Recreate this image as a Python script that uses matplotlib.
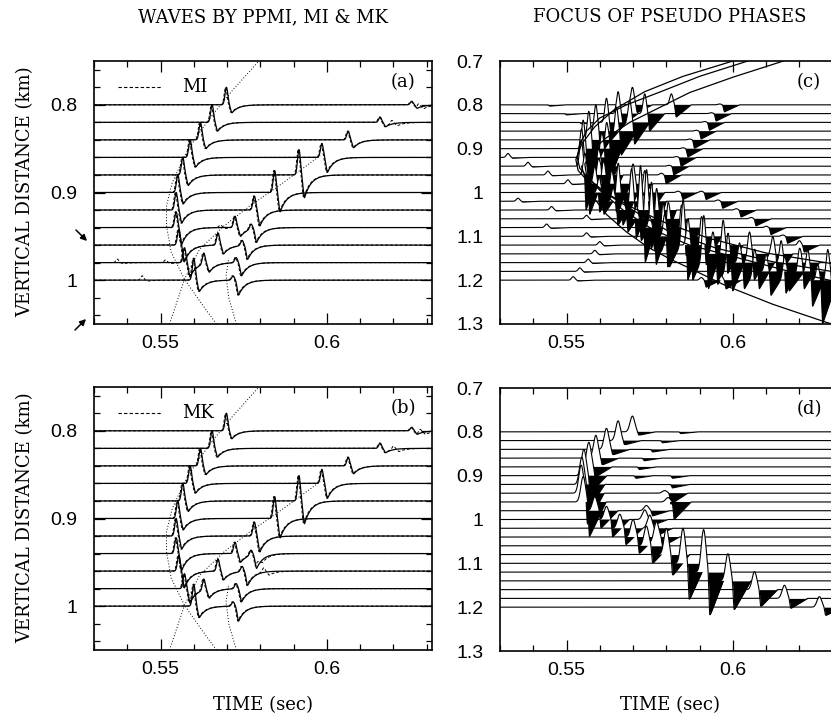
import numpy as np
import matplotlib.pyplot as plt
from matplotlib.patches import FancyArrowPatch

plt.rcParams['font.family'] = 'DejaVu Serif'
TICKFONT = 'Liberation Sans'

# time axis shared by all panels
t = np.linspace(0.53, 0.6316, 5000)

# receiver depths (km)
depths_ab = [0.80, 0.82, 0.84, 0.86, 0.88, 0.90, 0.92, 0.94, 0.96, 0.98, 1.00]
depths_cd = [0.80, 0.82, 0.84, 0.86, 0.88, 0.90, 0.92, 0.94, 0.96, 0.98, 1.00,
             1.02, 1.04, 1.06, 1.08, 1.10, 1.12, 1.14, 1.16, 1.18, 1.20]

# PPMI arrivals: (depth, peak time, peak amplitude, trough amplitude)
ppmi_waves = [
    (0.80, 0.5698, 0.020, 0.009), (0.80, 0.6255, 0.004, 0.004),
    (0.82, 0.5655, 0.020, 0.010), (0.82, 0.6160, 0.006, 0.005),
    (0.84, 0.5620, 0.020, 0.010), (0.84, 0.6064, 0.010, 0.009),
    (0.86, 0.5589, 0.020, 0.011), (0.86, 0.5985, 0.016, 0.017),
    (0.88, 0.5567, 0.020, 0.012), (0.88, 0.5916, 0.029, 0.026),
    (0.90, 0.5552, 0.020, 0.013), (0.90, 0.5843, 0.025, 0.022),
    (0.92, 0.5547, 0.020, 0.015), (0.92, 0.5782, 0.016, 0.018),
    (0.94, 0.5547, 0.018, 0.019), (0.94, 0.5724, 0.013, 0.010), (0.94, 0.5772, 0.006, 0.016),
    (0.96, 0.5555, 0.018, 0.019), (0.96, 0.5673, 0.014, 0.010), (0.96, 0.5745, 0.006, 0.016),
    (0.98, 0.5572, 0.017, 0.016), (0.98, 0.5630, 0.013, 0.010), (0.98, 0.5727, 0.006, 0.015),
    (1.00, 0.5600, 0.025, 0.013), (1.00, 0.5718, 0.005, 0.017),
]

# small extra wiggles seen only on the dashed (MI / MK) traces
mi_extra = [(0.98, 0.5370, 0.004, 0.001), (0.98, 0.5515, 0.003, 0.001),
            (1.00, 0.5445, 0.005, 0.001), (0.80, 0.6275, 0.004, 0.003),
            (0.82, 0.6195, 0.004, 0.003), (0.94, 0.5680, 0.003, 0.001)]
mk_extra = [(0.80, 0.6280, 0.004, 0.003), (0.82, 0.6200, 0.004, 0.003),
            (0.96, 0.5810, 0.005, 0.004), (0.94, 0.5790, 0.004, 0.004)]

# dotted traveltime curves for (a) and (b): (time, depth)
dot_hyper = [(0.5798, 0.749), (0.5713, 0.785), (0.5655, 0.812), (0.5610, 0.835),
             (0.5570, 0.860), (0.5535, 0.889), (0.5518, 0.915), (0.5518, 0.938),
             (0.5532, 0.968), (0.5572, 0.999), (0.5620, 1.025), (0.5668, 1.050)]
dot_refl = [(0.5527, 1.050), (0.5572, 0.999), (0.5617, 0.965), (0.5688, 0.939),
            (0.5768, 0.9155), (0.5868, 0.889), (0.5980, 0.858)]
dot_late = [(0.5728, 1.050), (0.5705, 1.020), (0.5697, 0.995), (0.5705, 0.975)]

# focused arrivals, panel (d)
focus_d = [
    (0.80, 0.5698, 0.036, 0.008), (0.80, 0.5825, 0.000, 0.004),
    (0.82, 0.5655, 0.045, 0.010), (0.82, 0.5770, 0.000, 0.005),
    (0.84, 0.5620, 0.048, 0.013), (0.84, 0.5740, 0.000, 0.006),
    (0.86, 0.5588, 0.052, 0.016), (0.86, 0.5715, 0.000, 0.006),
    (0.88, 0.5567, 0.056, 0.024), (0.88, 0.5700, 0.000, 0.006),
    (0.90, 0.5552, 0.060, 0.040), (0.90, 0.5690, 0.000, 0.006), (0.90, 0.5800, 0.000, 0.006),
    (0.92, 0.5546, 0.062, 0.058), (0.92, 0.5800, 0.000, 0.008),
    (0.94, 0.5544, 0.064, 0.072), (0.94, 0.5795, 0.006, 0.025),
    (0.96, 0.5550, 0.058, 0.080), (0.96, 0.5805, 0.010, 0.040),
    (0.98, 0.5585, 0.032, 0.040), (0.98, 0.5740, 0.012, 0.012),
    (1.00, 0.5620, 0.030, 0.040), (1.00, 0.5735, 0.022, 0.015),
    (1.02, 0.5660, 0.032, 0.038), (1.02, 0.5750, 0.030, 0.018),
    (1.04, 0.5700, 0.040, 0.038), (1.04, 0.5770, 0.035, 0.022),
    (1.06, 0.5740, 0.045, 0.040),
    (1.08, 0.5800, 0.060, 0.048),
    (1.10, 0.5850, 0.080, 0.084),
    (1.12, 0.5912, 0.097, 0.100),
    (1.14, 0.5985, 0.062, 0.067),
    (1.16, 0.6065, 0.041, 0.039),
    (1.18, 0.6155, 0.030, 0.023),
    (1.20, 0.6260, 0.024, 0.019),
]

# pseudo phases, panel (c)
pseudo_c = [
    (0.80, 0.5435, 0.000, 0.003), (0.80, 0.5698, 0.040, 0.018), (0.80, 0.5815, 0.025, 0.028), (0.80, 0.5960, 0.002, 0.016),
    (0.82, 0.5485, 0.000, 0.003), (0.82, 0.5655, 0.050, 0.025), (0.82, 0.5735, 0.045, 0.040), (0.82, 0.5935, 0.002, 0.017),
    (0.84, 0.5530, 0.000, 0.003), (0.84, 0.5620, 0.055, 0.040), (0.84, 0.5690, 0.050, 0.050), (0.84, 0.5915, 0.002, 0.018),
    (0.86, 0.5588, 0.060, 0.055), (0.86, 0.5650, 0.055, 0.055), (0.86, 0.5890, 0.002, 0.018),
    (0.88, 0.5567, 0.065, 0.070), (0.88, 0.5620, 0.050, 0.070), (0.88, 0.5870, 0.002, 0.019),
    (0.90, 0.5550, 0.065, 0.090), (0.90, 0.5605, 0.045, 0.085), (0.90, 0.5850, 0.002, 0.019),
    (0.92, 0.5324, 0.009, 0.002), (0.92, 0.5545, 0.065, 0.100), (0.92, 0.5595, 0.040, 0.090), (0.92, 0.5830, 0.002, 0.020),
    (0.94, 0.5384, 0.009, 0.002), (0.94, 0.5544, 0.060, 0.100), (0.94, 0.5595, 0.035, 0.085), (0.94, 0.5808, 0.002, 0.020),
    (0.96, 0.5444, 0.009, 0.002), (0.96, 0.5555, 0.050, 0.090), (0.96, 0.5610, 0.040, 0.075), (0.96, 0.5785, 0.004, 0.020),
    (0.98, 0.5504, 0.009, 0.002), (0.98, 0.5585, 0.040, 0.065), (0.98, 0.5635, 0.045, 0.065), (0.98, 0.5700, 0.045, 0.040),
    (1.00, 0.5598, 0.035, 0.050), (1.00, 0.5655, 0.070, 0.075), (1.00, 0.5735, 0.050, 0.050), (1.00, 0.5835, 0.003, 0.016), (1.00, 0.5905, 0.003, 0.016),
    (1.02, 0.5354, 0.007, 0.002), (1.02, 0.5640, 0.030, 0.055), (1.02, 0.5695, 0.080, 0.085), (1.02, 0.5740, 0.100, 0.110), (1.02, 0.5955, 0.003, 0.016),
    (1.04, 0.5455, 0.008, 0.002), (1.04, 0.5670, 0.025, 0.050), (1.04, 0.5722, 0.110, 0.120), (1.04, 0.5770, 0.080, 0.095), (1.04, 0.6010, 0.003, 0.016),
    (1.06, 0.5560, 0.008, 0.002), (1.06, 0.5710, 0.030, 0.050), (1.06, 0.5755, 0.100, 0.105), (1.06, 0.5805, 0.060, 0.075), (1.06, 0.6055, 0.003, 0.016),
    (1.08, 0.5440, 0.008, 0.002), (1.08, 0.5750, 0.025, 0.050), (1.08, 0.5790, 0.080, 0.085), (1.08, 0.5845, 0.060, 0.065), (1.08, 0.6100, 0.003, 0.016),
    (1.10, 0.5560, 0.008, 0.002), (1.10, 0.5795, 0.050, 0.070), (1.10, 0.5850, 0.090, 0.100), (1.10, 0.5905, 0.055, 0.065), (1.10, 0.6150, 0.003, 0.016),
    (1.12, 0.5600, 0.008, 0.002), (1.12, 0.5865, 0.060, 0.080), (1.12, 0.5912, 0.090, 0.100), (1.12, 0.5970, 0.060, 0.065), (1.12, 0.6200, 0.010, 0.016),
    (1.14, 0.5585, 0.008, 0.002), (1.14, 0.5940, 0.050, 0.070), (1.14, 0.5985, 0.070, 0.085), (1.14, 0.6050, 0.050, 0.060), (1.14, 0.6120, 0.040, 0.055),
    (1.16, 0.5565, 0.008, 0.002), (1.16, 0.6020, 0.045, 0.060), (1.16, 0.6065, 0.050, 0.060), (1.16, 0.6145, 0.050, 0.070), (1.16, 0.6200, 0.040, 0.060),
    (1.18, 0.5540, 0.008, 0.002), (1.18, 0.6100, 0.040, 0.055), (1.18, 0.6155, 0.040, 0.045), (1.18, 0.6225, 0.050, 0.080), (1.18, 0.6285, 0.050, 0.070),
    (1.20, 0.5520, 0.008, 0.002), (1.20, 0.5905, 0.006, 0.016), (1.20, 0.5965, 0.010, 0.020), (1.20, 0.6255, 0.035, 0.100),
]

# focus curves in (c): (time, depth)
curve_1 = [(0.6000, 0.700), (0.5850, 0.735), (0.5735, 0.770), (0.5645, 0.810), (0.5585, 0.850),
           (0.5545, 0.890), (0.5528, 0.925), (0.5535, 0.950), (0.5565, 0.975), (0.5615, 1.000),
           (0.5700, 1.035), (0.5800, 1.070), (0.5930, 1.105), (0.6100, 1.138), (0.6320, 1.165)]
curve_2 = [(0.6045, 0.700), (0.5900, 0.735), (0.5780, 0.771), (0.5680, 0.800), (0.5600, 0.830),
           (0.5560, 0.860), (0.5540, 0.890), (0.5532, 0.920), (0.5540, 0.945), (0.5575, 0.975),
           (0.5635, 1.010), (0.5720, 1.050), (0.5810, 1.090), (0.5950, 1.127), (0.6120, 1.158),
           (0.6320, 1.183)]
curve_3 = [(0.6152, 0.700), (0.6000, 0.737), (0.5870, 0.772), (0.5780, 0.806), (0.5690, 0.840),
           (0.5620, 0.875), (0.5575, 0.905), (0.5555, 0.935), (0.5560, 0.960), (0.5600, 0.995),
           (0.5670, 1.040), (0.5760, 1.085), (0.5870, 1.120), (0.6020, 1.150), (0.6170, 1.180),
           (0.6320, 1.205)]
curve_4 = [(0.5545, 0.940), (0.5555, 0.965), (0.5580, 1.010), (0.5620, 1.050), (0.5680, 1.090),
           (0.5745, 1.125), (0.5812, 1.152), (0.5890, 1.180), (0.5980, 1.213), (0.6120, 1.255),
           (0.6280, 1.296), (0.6320, 1.305)]


def pulse(t0, up, down, s_up, d, s_dn, tail, ramp):
    tau = t - t0
    pos = up * np.exp(-(tau / s_up) ** 2)
    if ramp:
        back = np.clip(1 - (tau - d) / tail, 0, 1)
    else:
        back = np.exp(-np.clip(tau - d, 0, None) / tail)
    neg = np.where(tau < d, np.exp(-((tau - d) / s_dn) ** 2), back)
    return pos - down * neg


def trace(depth, waves, shape, shift=0.0):
    w = np.zeros_like(t)
    for z, t0, up, down in waves:
        if abs(z - depth) < 1e-6:
            w += pulse(t0 + shift, up, down, *shape)
    return w


SHAPE_AB = (0.0006, 0.0017, 0.0006, 0.002, False)
SHAPE_C = (0.0007, 0.0015, 0.0004, 0.0045, True)
SHAPE_D = (0.0010, 0.0019, 0.0004, 0.0050, True)

W, H = 831, 720
fig = plt.figure(figsize=(W / 100, H / 100), dpi=100)


def box(left, top, width=338, height=263):
    return [left / W, 1 - (top + height) / H, width / W, height / H]


ax_a = fig.add_axes(box(94, 61))
ax_b = fig.add_axes(box(94, 387))
ax_c = fig.add_axes(box(500, 61))
ax_d = fig.add_axes(box(500, 388))


def style(ax, ylim, yticks, ylabels, yminor, ytick_len):
    ax.set_xlim(0.53, 0.6316)
    ax.set_ylim(*ylim)
    ax.set_xticks([0.55, 0.6])
    ax.set_xticklabels(['0.55', '0.6'])
    ax.set_xticks([0.53, 0.54, 0.56, 0.57, 0.58, 0.59, 0.61, 0.62, 0.63], minor=True)
    ax.set_yticks(yticks)
    ax.set_yticklabels(ylabels)
    ax.set_yticks(yminor, minor=True)
    ax.tick_params(which='both', direction='in', top=True, right=True, width=0.9)
    ax.tick_params(axis='x', which='major', length=8, pad=8)
    ax.tick_params(axis='x', which='minor', length=4)
    ax.tick_params(axis='y', which='major', length=ytick_len, pad=12)
    ax.tick_params(axis='y', which='minor', length=4 if ytick_len else 0)
    for lab in ax.get_xticklabels() + ax.get_yticklabels():
        lab.set_fontfamily(TICKFONT)
        lab.set_fontsize(14)
    for sp in ax.spines.values():
        sp.set_linewidth(1.2)
        sp.set_zorder(400)


def wiggles(ax, label, extra, legend_name):
    for z in depths_ab:
        w = trace(z, ppmi_waves, SHAPE_AB)
        w_dash = trace(z, ppmi_waves, SHAPE_AB, shift=-0.00025) + trace(z, extra, SHAPE_AB)
        ax.plot(t, z - w_dash, color='black', lw=0.7, ls=(0, (3, 2)))
        ax.plot(t, z - w, color='black', lw=0.9)
    for pts in (dot_hyper, dot_refl, dot_late):
        tt, zz = zip(*pts)
        ax.plot(tt, zz, color='black', lw=0.7, ls=(0, (1, 2)))
    style(ax, (1.05, 0.75), [0.8, 0.9, 1.0], ['0.8', '0.9', '1'],
          np.arange(0.76, 1.045, 0.02), 8)
    ax.plot([0.071, 0.201], [0.901, 0.901], transform=ax.transAxes,
            color='black', lw=0.8, ls=(0, (3, 2)))
    ax.text(0.26, 0.901, legend_name, transform=ax.transAxes, fontsize=13,
            va='center', ha='left')
    ax.text(0.914, 0.92, label, transform=ax.transAxes, fontsize=13,
            va='center', ha='center')


def filled(ax, waves, shape, label, curves):
    for k, z in enumerate(depths_cd):
        w = trace(z, waves, shape)
        y = z - w
        ax.fill_between(t, z, y, where=w > 0, color='white', interpolate=True,
                        zorder=2 + 3 * k, lw=0)
        ax.fill_between(t, z, y, where=w < 0, color='black', interpolate=True,
                        zorder=3 + 3 * k, lw=0)
        ax.plot(t, y, color='black', lw=0.8, zorder=4 + 3 * k)
    for pts in curves:
        tt, zz = zip(*pts)
        ax.plot(tt, zz, color='black', lw=0.9, zorder=200)
    style(ax, (1.3, 0.7), [0.7, 0.8, 0.9, 1.0, 1.1, 1.2, 1.3],
          ['0.7', '0.8', '0.9', '1', '1.1', '1.2', '1.3'], [], 0)
    ax.text(0.914, 0.92, label, transform=ax.transAxes, fontsize=13,
            va='center', ha='center', zorder=300)


wiggles(ax_a, '(a)', mi_extra, 'MI')
wiggles(ax_b, '(b)', mk_extra, 'MK')
filled(ax_c, pseudo_c, SHAPE_C, '(c)', [curve_1, curve_2, curve_3, curve_4])
filled(ax_d, focus_d, SHAPE_D, '(d)', [])

fig.text(263 / W, 1 - 17 / H, 'WAVES BY PPMI, MI & MK', ha='center', va='center', fontsize=13)
fig.text(670 / W, 1 - 17 / H, 'FOCUS OF PSEUDO PHASES', ha='center', va='center', fontsize=13)
for yc in (192, 518):
    fig.text(25 / W, 1 - yc / H, 'VERTICAL DISTANCE (km)', rotation=90,
             ha='center', va='center', fontsize=13)
for xc in (263, 670):
    fig.text(xc / W, 1 - 705 / H, 'TIME (sec)', ha='center', va='center', fontsize=13)

# depth markers beside panel (a)
for (x0, y0), (x1, y1) in [((76, 230), (87, 241)), ((75, 330), (86, 319))]:
    fig.add_artist(FancyArrowPatch((x0 / W, 1 - y0 / H), (x1 / W, 1 - y1 / H),
                                   transform=fig.transFigure, arrowstyle='-|>',
                                   mutation_scale=9, color='black', lw=1.1,
                                   shrinkA=0, shrinkB=0))

fig.savefig('out.png', dpi=100)
